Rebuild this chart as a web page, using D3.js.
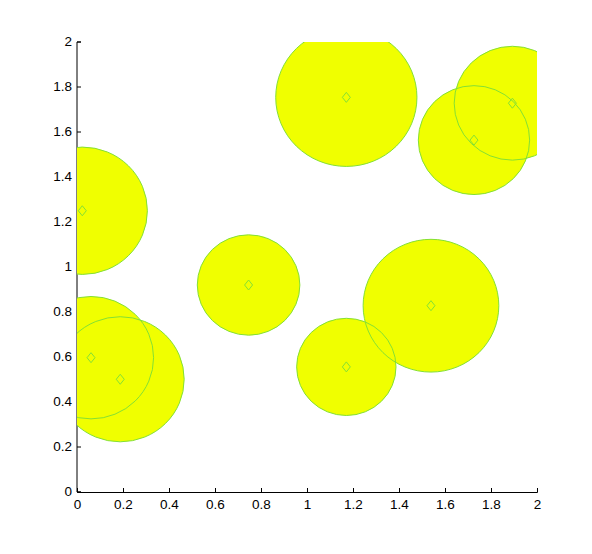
<!DOCTYPE html>
<html>
<head>
<meta charset="utf-8">
<script src="https://cdn.jsdelivr.net/npm/d3@7"></script>
<style>
  html, body { margin: 0; padding: 0; background: #fff; }
  svg { display: block; }
</style>
</head>
<body>
<svg id="chart" width="592" height="554"></svg>
<script>
// Circle centres (x, y) and radii in data units
const centerX = [0.023, 0.061, 0.188, 0.746, 1.171, 1.171, 1.539, 1.726, 1.893];
const centerY = [1.250, 0.597, 0.501, 0.920, 1.754, 0.556, 0.828, 1.564, 1.728];
const radius  = [0.283, 0.272, 0.278, 0.223, 0.307, 0.216, 0.295, 0.242, 0.253];
const xTicks = [0, 0.2, 0.4, 0.6, 0.8, 1, 1.2, 1.4, 1.6, 1.8, 2];
const yTicks = [0, 0.2, 0.4, 0.6, 0.8, 1, 1.2, 1.4, 1.6, 1.8, 2];

const circles = centerX.map((x, i) => ({ x, y: centerY[i], r: radius[i] }));

const svg = d3.select("#chart");
const mLeft = 77, mRight = 537, mTop = 42, mBottom = 492;

const x = d3.scaleLinear().domain([0, 2]).range([mLeft, mRight]);
const y = d3.scaleLinear().domain([0, 2]).range([mBottom, mTop]);

const fmt = d => String(d);
const FONT = '"Liberation Sans", Arial, Helvetica, sans-serif';

// Y axis (drawn first, circles cover its right half)
const yAxis = svg.append("g").attr("transform", `translate(${mLeft},0)`)
  .call(d3.axisLeft(y).tickValues(yTicks).tickFormat(fmt).tickSize(-4).tickPadding(5).offset(0));
yAxis.attr("font-size", 13.5).attr("font-family", FONT);
yAxis.select(".domain").attr("stroke", "#000");

// X axis
const xAxis = svg.append("g").attr("transform", `translate(0,${mBottom})`)
  .call(d3.axisBottom(x).tickValues(xTicks).tickFormat(fmt).tickSize(-4).tickPadding(7));
xAxis.attr("font-size", 13.5).attr("font-family", FONT);

svg.append("defs").append("clipPath").attr("id", "plotclip")
  .append("rect").attr("x", mLeft).attr("y", mTop)
  .attr("width", mRight - mLeft).attr("height", mBottom - mTop);

const plot = svg.append("g").attr("clip-path", "url(#plotclip)");

const fillCol = "#f0ff00";
const strokeCol = "#84e034";

plot.selectAll("ellipse.fill").data(circles).join("ellipse")
  .attr("class", "fill")
  .attr("cx", d => x(d.x)).attr("cy", d => y(d.y))
  .attr("rx", d => x(d.r) - x(0)).attr("ry", d => y(0) - y(d.r))
  .attr("fill", fillCol).attr("stroke", "none");

plot.selectAll("ellipse.edge").data(circles).join("ellipse")
  .attr("class", "edge")
  .attr("cx", d => x(d.x)).attr("cy", d => y(d.y))
  .attr("rx", d => x(d.r) - x(0)).attr("ry", d => y(0) - y(d.r))
  .attr("fill", "none").attr("stroke", strokeCol).attr("stroke-width", 1);

// Diamond markers at the centres
const diamond = (cx, cy) => {
  const w = 4, h = 5;
  return `M${cx},${cy - h}L${cx + w},${cy}L${cx},${cy + h}L${cx - w},${cy}Z`;
};
plot.selectAll("path.marker").data(circles).join("path")
  .attr("class", "marker")
  .attr("d", d => diamond(x(d.x), y(d.y)))
  .attr("fill", "none").attr("stroke", strokeCol).attr("stroke-width", 1);
</script>
</body>
</html>
